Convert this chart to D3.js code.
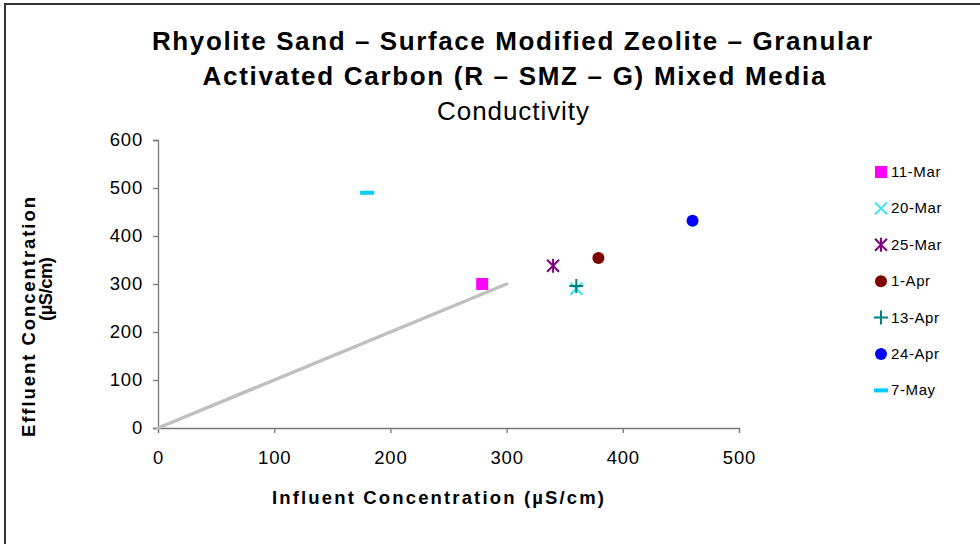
<!DOCTYPE html>
<html><head><meta charset="utf-8">
<script src="https://cdn.jsdelivr.net/npm/d3@7"></script>
<style>body{margin:0;background:#fff;} text{font-family:"Liberation Sans",Arial,sans-serif;}</style>
</head><body>
<svg id="c" width="980" height="544"></svg>
<script>
const seriesNames = ["11-Mar","20-Mar","25-Mar","1-Apr","13-Apr","24-Apr","7-May"];
const influent = [279, 360, 340, 379, 360, 460, 180];
const effluent = [300, 290, 338, 354, 296, 432, 490];
const colors = ["#FF00FF","#33E5EE","#800080","#800000","#008080","#0000FF","#00CCFF"];
const shapes = ["square","x","asterisk","circle","plus","circle","dash"];
const lineX = [0, 300];
const lineY = [0, 300];
const xTicks = [0,100,200,300,400,500];
const yTicks = [0,100,200,300,400,500,600];

const svg = d3.select("#c");
svg.append("rect").attr("x",5).attr("y",4).attr("width",1000).attr("height",600)
  .attr("fill","#fff").attr("stroke","#333").attr("stroke-width",2);

const x = d3.scaleLinear().domain([0,500]).range([158,739]);
const y = d3.scaleLinear().domain([0,600]).range([428,140]);

// axes
const gx = svg.append("g").attr("transform","translate(0,428)")
  .call(d3.axisBottom(x).tickValues(xTicks).tickSize(5).tickPadding(18));
const gy = svg.append("g").attr("transform","translate(158,0)")
  .call(d3.axisLeft(y).tickValues(yTicks).tickSize(5).tickPadding(10));
[gx,gy].forEach(g=>{
  g.select(".domain").attr("stroke","#777").attr("stroke-width",1.3);
  g.selectAll(".tick line").attr("stroke","#777").attr("stroke-width",1.3);
  g.selectAll(".tick text").attr("font-size",18.5).attr("fill","#000")
    .attr("letter-spacing","0.8px").attr("font-family","Liberation Sans, Arial, sans-serif");
});

// reference line
svg.append("line").attr("x1",x(lineX[0])).attr("y1",y(lineY[0])).attr("x2",x(lineX[1])).attr("y2",y(lineY[1]))
  .attr("stroke","#c0c0c0").attr("stroke-width",3.5).attr("stroke-linecap","round");

function drawMarker(g, shape, color, cx, cy){
  if(shape==="square") g.append("rect").attr("x",cx-6).attr("y",cy-6).attr("width",12).attr("height",12).attr("fill",color);
  else if(shape==="circle") g.append("circle").attr("cx",cx).attr("cy",cy).attr("r",6).attr("fill",color);
  else if(shape==="x") g.append("path").attr("d",`M${cx-6},${cy-6}L${cx+6},${cy+6}M${cx-6},${cy+6}L${cx+6},${cy-6}`).attr("stroke",color).attr("stroke-width",2);
  else if(shape==="plus") g.append("path").attr("d",`M${cx-7},${cy}L${cx+7},${cy}M${cx},${cy-7}L${cx},${cy+7}`).attr("stroke",color).attr("stroke-width",2);
  else if(shape==="asterisk") g.append("path").attr("d",`M${cx-6},${cy-6}L${cx+6},${cy+6}M${cx-6},${cy+6}L${cx+6},${cy-6}M${cx},${cy-7}L${cx},${cy+7}`).attr("stroke",color).attr("stroke-width",2);
  else if(shape==="dash") g.append("rect").attr("x",cx-7).attr("y",cy-2).attr("width",14).attr("height",4).attr("fill",color);
}

const pts = svg.append("g");
seriesNames.forEach((n,i)=>drawMarker(pts, shapes[i], colors[i], x(influent[i]), y(effluent[i])));

// legend
const leg = svg.append("g");
seriesNames.forEach((n,i)=>{
  const ly = 172 + i*36.4;
  drawMarker(leg, shapes[i], colors[i], 881, ly);
  leg.append("text").attr("x",891).attr("y",ly+5).attr("font-size",15).attr("letter-spacing","0.6px").attr("fill","#000").text(n);
});

// titles
const t = svg.append("g").attr("text-anchor","middle");
t.append("text").attr("x",512).attr("y",50).attr("font-size",26).attr("font-weight","bold")
  .attr("textLength",720).attr("lengthAdjust","spacing").text("Rhyolite Sand – Surface Modified Zeolite – Granular");
t.append("text").attr("x",514).attr("y",85).attr("font-size",26).attr("font-weight","bold")
  .attr("textLength",623).attr("lengthAdjust","spacing").text("Activated Carbon (R – SMZ – G) Mixed Media");
t.append("text").attr("x",513).attr("y",120).attr("font-size",26)
  .attr("textLength",152).attr("lengthAdjust","spacing").text("Conductivity");

svg.append("text").attr("x",438).attr("y",504).attr("text-anchor","middle").attr("font-size",18.5).attr("font-weight","bold")
  .attr("textLength",332).attr("lengthAdjust","spacing").text("Influent Concentration (µS/cm)");
svg.append("text").attr("transform","translate(35,317) rotate(-90)").attr("text-anchor","middle").attr("font-size",18.5).attr("font-weight","bold")
  .attr("textLength",240).attr("lengthAdjust","spacing").text("Effluent Concentration");
svg.append("text").attr("transform","translate(52,289) rotate(-90)").attr("text-anchor","middle").attr("font-size",18.5).attr("font-weight","bold")
  .attr("textLength",64).attr("lengthAdjust","spacing").text("(µS/cm)");
</script>
</body></html>
